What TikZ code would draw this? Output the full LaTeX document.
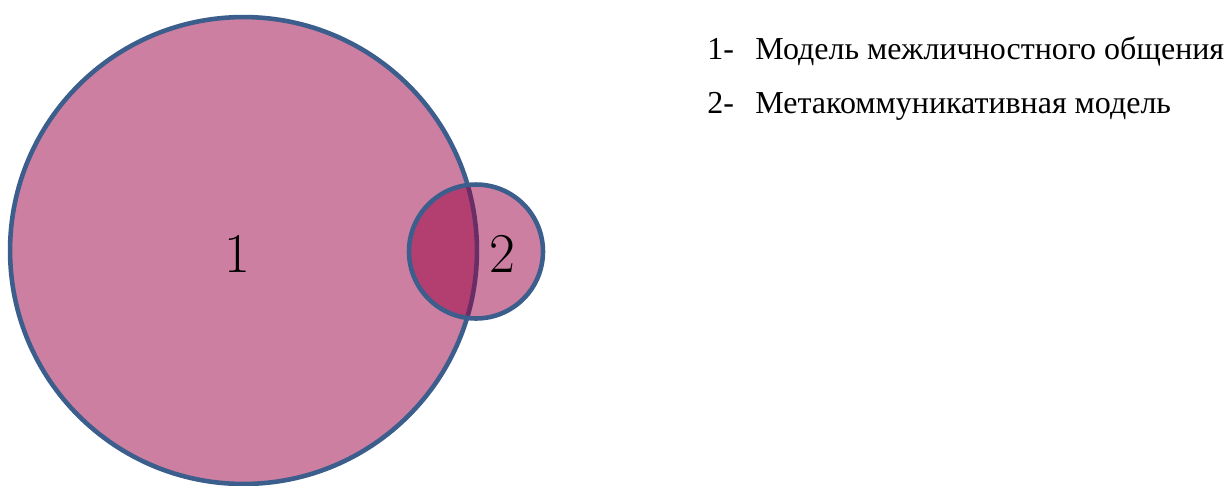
\documentclass[tikz,border=0pt]{standalone}
\usepackage{fontspec}
\newfontfamily\listfont{Liberation Serif}
\definecolor{vennfill}{RGB}{153,0,65}
\definecolor{vennedge}{RGB}{59,94,140}

\begin{document}
\begin{tikzpicture}[x=0.02cm,y=-0.02cm,
  set/.style={circle,draw=vennedge,line width=2.6pt,fill=vennfill,fill opacity=.5,draw opacity=1,inner sep=0pt},
  num/.style={font=\fontsize{32}{32}\selectfont,inner sep=0pt},
  item/.style={font=\listfont\fontsize{18.2}{21}\selectfont,anchor=base west,inner sep=0pt}]
\useasboundingbox (0,0) rectangle (1227,485);
\node[set,minimum size=9.34cm] (big) at (243.5,250.5) {};
\node[set,minimum size=2.68cm] (small) at (476,251.5) {};
\node[num] (one) at (237,254) {1};
\node[num] (two) at (502,254) {2};
\node[item] (num1) at (707,59) {1-};
\node[item] (txt1) at (755,59) {Модель межличностного общения};
\node[item] (num2) at (707,113) {2-};
\node[item] (txt2) at (755,113) {Метакоммуникативная модель};
\end{tikzpicture}
\end{document}
